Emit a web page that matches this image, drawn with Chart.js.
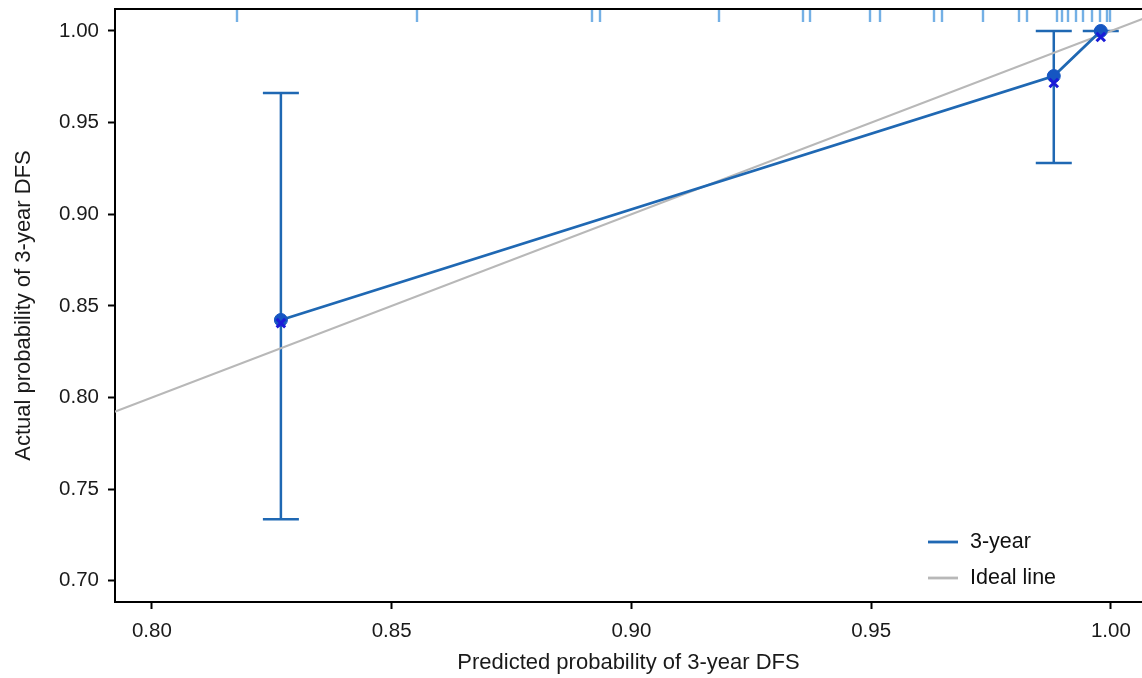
<!DOCTYPE html>
<html><head><meta charset="utf-8">
<script src="https://cdn.jsdelivr.net/npm/chart.js@4.4.1/dist/chart.umd.min.js"></script>
<style>html,body{margin:0;padding:0;background:#fff}canvas{display:block}</style>
</head><body>
<canvas id="c" width="1142" height="678"></canvas>
<script>
const predicted = [0.8269, 0.9881, 0.9979];
const observed = [0.8423, 0.9754, 1.0000];
const biasCorrected = [0.8406, 0.9716, 0.9967];
const ciLower = [0.7336, 0.9279, 1.0000];
const ciUpper = [0.9662, 1.0000, 1.0000];
const rugValues = [0.8177, 0.8552, 0.8918, 0.8934, 0.9182, 0.9357, 0.9372, 0.9497, 0.9518, 0.9631, 0.9648, 0.9733, 0.9808, 0.9825, 0.9887, 0.9898, 0.9910, 0.9927, 0.9942, 0.9960, 0.9977, 0.9992, 0.9999];
const idealRange = [0.78, 1.02];
const xTicks = [0.80, 0.85, 0.90, 0.95, 1.00];
const yTicks = [0.70, 0.75, 0.80, 0.85, 0.90, 0.95, 1.00];
const xTitle = 'Predicted probability of 3-year DFS';
const yTitle = 'Actual probability of 3-year DFS';
const seriesLabel = '3-year';
const idealLabel = 'Ideal line';

const BLUE = '#1f68b3';
const POINT = '#1656c2';
const CROSS = '#1b1bd8';
const GRAY = '#b8b8b8';
const RUG = 'rgba(70,150,220,0.75)';
const FONT = '"Liberation Sans", Arial, sans-serif';

const overlay = {
  id: 'overlay',
  beforeDatasetsDraw(chart) {
    const {ctx, scales: {x, y}} = chart;
    ctx.save();
    ctx.strokeStyle = BLUE;
    ctx.lineWidth = 2.5;
    const cap = 18;
    for (let i = 0; i < predicted.length; i++) {
      const px = x.getPixelForValue(predicted[i]);
      const lo = y.getPixelForValue(ciLower[i]);
      const hi = y.getPixelForValue(ciUpper[i]);
      ctx.beginPath();
      ctx.moveTo(px, lo); ctx.lineTo(px, hi);
      ctx.moveTo(px - cap, lo); ctx.lineTo(px + cap, lo);
      ctx.moveTo(px - cap, hi); ctx.lineTo(px + cap, hi);
      ctx.stroke();
    }
    ctx.restore();
  },
  afterDatasetsDraw(chart) {
    const {ctx, chartArea: a, scales: {x}} = chart;
    ctx.save();
    ctx.strokeStyle = RUG;
    ctx.lineWidth = 2.4;
    for (const v of rugValues) {
      const px = Math.round(x.getPixelForValue(v));
      ctx.beginPath();
      ctx.moveTo(px, a.top + 1);
      ctx.lineTo(px, a.top + 13);
      ctx.stroke();
    }
    ctx.strokeStyle = '#000';
    ctx.lineWidth = 2;
    ctx.beginPath();
    ctx.moveTo(a.left - 1, a.top);
    ctx.lineTo(a.right, a.top);
    ctx.stroke();
    const items = [{label: seriesLabel, color: BLUE}, {label: idealLabel, color: GRAY}];
    ctx.font = '21.5px ' + FONT;
    ctx.textBaseline = 'middle';
    ctx.textAlign = 'left';
    items.forEach((it, i) => {
      const yy = a.bottom - 60 + i * 36;
      const x0 = a.right - 214;
      ctx.strokeStyle = it.color;
      ctx.lineWidth = 2.8;
      ctx.beginPath();
      ctx.moveTo(x0, yy); ctx.lineTo(x0 + 30, yy);
      ctx.stroke();
      ctx.fillStyle = '#111';
      ctx.fillText(it.label, x0 + 42, yy);
    });
    ctx.restore();
  }
};

new Chart(document.getElementById('c'), {
  type: 'line',
  data: {
    datasets: [
      {
        label: 'bias-corrected',
        data: predicted.map((p, i) => ({x: p, y: biasCorrected[i]})),
        showLine: false,
        pointStyle: 'crossRot',
        pointRadius: 6,
        pointBorderWidth: 3,
        borderColor: CROSS,
        backgroundColor: CROSS,
        order: 0
      },
      {
        label: seriesLabel,
        data: predicted.map((p, i) => ({x: p, y: observed[i]})),
        borderColor: BLUE,
        borderWidth: 2.8,
        pointRadius: 6.5,
        pointBackgroundColor: POINT,
        pointBorderColor: POINT,
        pointBorderWidth: 1,
        tension: 0,
        order: 1
      },
      {
        label: idealLabel,
        data: idealRange.map(v => ({x: v, y: v})),
        borderColor: GRAY,
        borderWidth: 2.2,
        pointRadius: 0,
        order: 2
      }
    ]
  },
  options: {
    responsive: false,
    animation: false,
    layout: {autoPadding: false, padding: {top: 9, right: 0, left: 0, bottom: 0}},
    plugins: {legend: {display: false}, tooltip: {enabled: false}},
    scales: {
      x: {
        type: 'linear',
        min: 0.7923, max: 1.0065,
        afterBuildTicks: s => { s.ticks = xTicks.map(v => ({value: v})); },
        afterFit: s => { s.height = 76; s.paddingLeft = 0; s.paddingRight = 0; },
        ticks: {callback: v => Number(v).toFixed(2), color: '#1a1a1a', font: {family: FONT, size: 20.5}, padding: 10, maxRotation: 0},
        grid: {drawOnChartArea: false, tickLength: 7, tickWidth: 2, tickColor: '#000'},
        border: {display: true, color: '#000', width: 2},
        title: {display: true, text: xTitle, color: '#1a1a1a', font: {family: FONT, size: 22}, padding: {top: 2, bottom: 2}}
      },
      y: {
        type: 'linear',
        min: 0.6884, max: 1.012,
        afterBuildTicks: s => { s.ticks = yTicks.map(v => ({value: v})); },
        afterFit: s => { s.width = 115; s.paddingTop = 0; s.paddingBottom = 0; },
        ticks: {callback: v => Number(v).toFixed(2), color: '#1a1a1a', font: {family: FONT, size: 20.5}, padding: 9},
        grid: {drawOnChartArea: false, tickLength: 7, tickWidth: 2, tickColor: '#000'},
        border: {display: true, color: '#000', width: 2},
        title: {display: true, text: yTitle, color: '#1a1a1a', font: {family: FONT, size: 22}, padding: {top: 11, bottom: 11}}
      }
    }
  },
  plugins: [overlay]
});
</script>
</body></html>
